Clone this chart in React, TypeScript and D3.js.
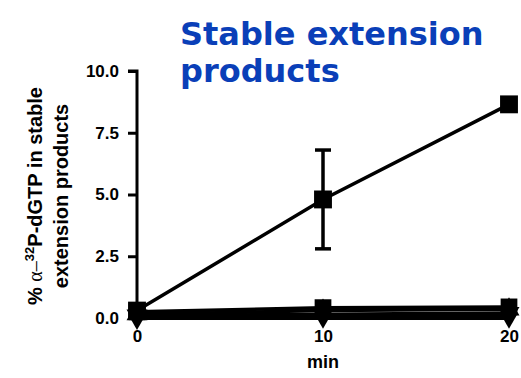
import React, { useEffect, useRef } from "react";
import * as d3 from "d3";

const times = [0, 10, 20];
const mainSeries = [0.3, 4.8, 8.65];
const mainErrors = [0, 2.0, 0];
const lowSquare = [0.25, 0.42, 0.45];
const lowUp = [0.15, 0.3, 0.35];
const lowDown = [0.1, 0.15, 0.2];
const lowDiamond = [0.05, 0.1, 0.1];
const yTicks = [0, 2.5, 5, 7.5, 10];
const xTicks = [0, 10, 20];

export default function App() {
  const svgRef = useRef<SVGSVGElement>(null);

  useEffect(() => {
    const svg = d3.select(svgRef.current);
    svg.selectAll("*").remove();

    const x = d3.scaleLinear().domain([0, 20]).range([137, 509]);
    const y = d3.scaleLinear().domain([0, 10]).range([318, 71]);
    const font = "Liberation Sans, Arial, sans-serif";

    // title
    const title = svg.append("text")
      .attr("fill", "#0a3fb8")
      .attr("font-family", "Comic Sans MS, DejaVu Sans, sans-serif")
      .attr("font-weight", "bold")
      .attr("font-size", 32);
    title.append("tspan").attr("x", 180).attr("y", 45).text("Stable extension");
    title.append("tspan").attr("x", 180).attr("y", 82).text("products");

    // y axis
    const gy = svg.append("g").attr("transform", `translate(${x(0)},0)`)
      .call(d3.axisLeft(y).tickValues(yTicks).tickFormat(d3.format(".1f")).tickSize(9).tickSizeOuter(0));
    gy.select(".domain").attr("stroke-width", 3).attr("d", `M-9,${y(10)}H0V${y(0)}`);
    gy.selectAll(".tick line").attr("stroke-width", 3);
    gy.selectAll(".tick text").attr("font-family", font).attr("font-weight", "bold")
      .attr("font-size", 17).attr("x", -18);

    // x axis
    const gx = svg.append("g").attr("transform", `translate(0,${y(0)})`)
      .call(d3.axisBottom(x).tickValues(xTicks).tickSize(6).tickSizeOuter(0));
    gx.select(".domain").attr("stroke-width", 3);
    gx.selectAll(".tick line").attr("stroke-width", 3);
    gx.selectAll(".tick text").attr("font-family", font).attr("font-weight", "bold")
      .attr("font-size", 17).attr("y", 12);

    svg.append("text").attr("x", x(10)).attr("y", 368).attr("text-anchor", "middle")
      .attr("font-family", font).attr("font-weight", "bold").attr("font-size", 18).text("min");

    // y label
    const yl = svg.append("text")
      .attr("transform", "translate(51,196) rotate(-90)")
      .attr("text-anchor", "middle")
      .attr("font-family", font).attr("font-weight", "bold").attr("font-size", 20);
    const l1 = yl.append("tspan").attr("x", 0).attr("y", -9);
    l1.append("tspan").text("% ");
    l1.append("tspan").attr("font-family", "Liberation Serif, serif").attr("font-weight", "normal").text("α–");
    l1.append("tspan").attr("font-size", 13).attr("dy", -8).text("32");
    l1.append("tspan").attr("dy", 8).text("P-dGTP in stable");
    yl.append("tspan").attr("x", 0).attr("y", 17).text("extension products");

    const line = d3.line<number>().x((_, i) => x(times[i])).y(d => y(d));
    const series = [
      { v: lowDiamond, sym: d3.symbolDiamond, size: 200 },
      { v: lowDown, sym: d3.symbolTriangle, size: 190, rot: 180 },
      { v: lowUp, sym: d3.symbolTriangle, size: 190 },
      { v: lowSquare, sym: d3.symbolSquare, size: 280 },
      { v: mainSeries, sym: d3.symbolSquare, size: 320 },
    ];

    // error bars
    mainSeries.forEach((v, i) => {
      const e = mainErrors[i];
      if (!e) return;
      const g = svg.append("g").attr("stroke", "#000").attr("stroke-width", 3.5);
      g.append("line").attr("x1", x(times[i])).attr("x2", x(times[i])).attr("y1", y(v - e)).attr("y2", y(v + e));
      g.append("line").attr("x1", x(times[i]) - 8).attr("x2", x(times[i]) + 8).attr("y1", y(v - e)).attr("y2", y(v - e));
      g.append("line").attr("x1", x(times[i]) - 8).attr("x2", x(times[i]) + 8).attr("y1", y(v + e)).attr("y2", y(v + e));
    });

    series.forEach(s => {
      svg.append("path").datum(s.v).attr("d", line).attr("fill", "none")
        .attr("stroke", "#000").attr("stroke-width", 3.5);
      svg.selectAll(null).data(s.v).join("path")
        .attr("transform", (d, i) => `translate(${x(times[i])},${y(d)}) rotate(${s.rot || 0})`)
        .attr("d", d3.symbol().type(s.sym).size(s.size)())
        .attr("fill", "#000");
    });
  }, []);

  return (
    <svg ref={svgRef} width={521} height={378} style={{ position: "absolute", left: 0, top: 0, background: "#fff" }} />
  );
}
